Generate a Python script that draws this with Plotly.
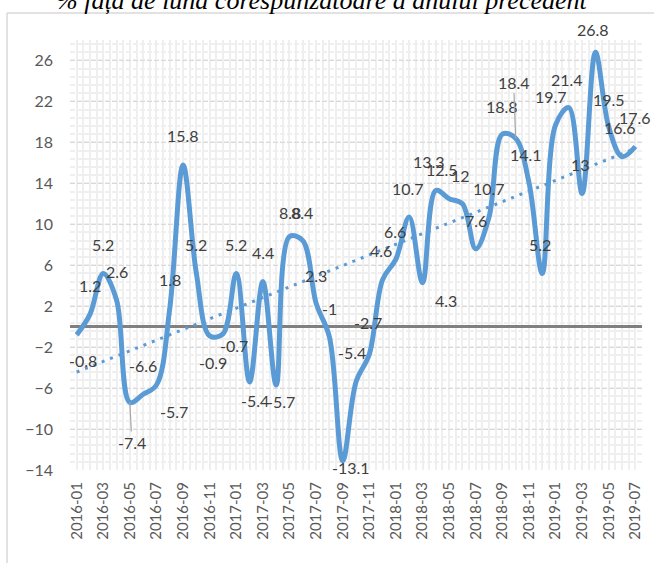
import numpy as np
import plotly.graph_objects as go

# ---- data ----
months = ["2016-01","2016-02","2016-03","2016-04","2016-05","2016-06","2016-07","2016-08","2016-09","2016-10","2016-11","2016-12",
          "2017-01","2017-02","2017-03","2017-04","2017-05","2017-06","2017-07","2017-08","2017-09","2017-10","2017-11","2017-12",
          "2018-01","2018-02","2018-03","2018-04","2018-05","2018-06","2018-07","2018-08","2018-09","2018-10","2018-11","2018-12",
          "2019-01","2019-02","2019-03","2019-04","2019-05","2019-06","2019-07"]
values = [-0.8, 1.2, 5.2, 2.6, -7.4, -6.6, -5.7, 1.8, 15.8, 5.2, -0.9, -0.7,
          5.2, -5.4, 4.4, -5.7, 8.8, 8.4, 2.3, -1, -13.1, -5.4, -2.7, 4.6,
          6.6, 10.7, 4.3, 13.3, 12.5, 12, 7.6, 10.7, 18.8, 18.4, 14.1, 5.2,
          19.7, 21.4, 13, 26.8, 19.5, 16.6, 17.6]
y_ticks = [-14, -10, -6, -2, 2, 6, 10, 14, 18, 22, 26]
title_text = "% față de luna corespunzătoare a anului precedent"

# ---- label offsets (pixels; dy positive = up) ----
label_dx = [6, 0, 0, 0, 2, 0, 18, 0, 0, 0, 3, 11,
            0, 5, 0, 5, 1, -1, 0, 0, 8, -4, -1, -2,
            -1, -1, 23, -7, -7, -2, 0, 0, 0, -2, -3, -2,
            -5, -2, -2, -2, 0, -2, 0]
label_dy = [-26, 29, 29, 29, -40, 29, -26, 29, 29, 29, -27, -12,
            29, -19, 29, -16, 24, 28, 28, 28, -7, 29, 32, 29,
            28, 29, -18, 29, 29, 28, 28, 29, 28, 56, 28, 29,
            28, 28, 29, 23, 28, 29, 29]
leader = [4, 33]

BLUE = "#5B9BD5"
x_idx = list(range(len(values)))

slope, intercept = np.polyfit(x_idx, values, 1)
trend = [slope * i + intercept for i in x_idx]

fig = go.Figure()
fig.add_trace(go.Scatter(x=x_idx, y=trend, mode="lines",
                         line=dict(color=BLUE, width=3, dash="3px,6px"),
                         hoverinfo="skip", showlegend=False))
fig.add_trace(go.Scatter(x=x_idx, y=values, mode="lines",
                         line=dict(color=BLUE, width=5, shape="spline", smoothing=1),
                         showlegend=False))

ann = []
for i, v in enumerate(values):
    txt = f"{v:g}"
    if i in leader:
        ann.append(dict(x=i, y=v, xref="x", yref="y", text=txt, showarrow=True,
                        arrowhead=0, arrowwidth=1.2, arrowcolor="#A6A6A6",
                        ax=label_dx[i], ay=-label_dy[i], standoff=0,
                        font=dict(family="Lato", size=16, color="#404040")))
    else:
        ann.append(dict(x=i, y=v, xref="x", yref="y", text=txt, showarrow=False,
                        xshift=label_dx[i], yshift=label_dy[i],
                        xanchor="center", yanchor="middle",
                        font=dict(family="Lato", size=16, color="#404040")))

W, H = 654, 563
L, R, T, B = 70, 12, 40, 93
pw, ph = W - L - R, H - T - B

def px_x(p):
    return (p - L) / pw

def px_y(p):
    return (H - B - p) / ph

ann.append(dict(x=px_x(322), y=px_y(0), xref="paper", yref="paper",
                text="<i>" + title_text + "</i>", showarrow=False,
                xanchor="center", yanchor="middle",
                font=dict(family="Liberation Serif", size=26, color="#000000")))

shapes = [
    dict(type="line", xref="paper", yref="paper", x0=px_x(7), x1=px_x(660),
         y0=px_y(13), y1=px_y(13), line=dict(color="#D9D9D9", width=1.5)),
    dict(type="line", xref="paper", yref="paper", x0=px_x(7), x1=px_x(7),
         y0=px_y(13), y1=px_y(570), line=dict(color="#D9D9D9", width=1.5)),
]

fig.update_layout(
    width=W, height=H,
    margin=dict(l=L, r=R, t=T, b=B, autoexpand=False),
    paper_bgcolor="white", plot_bgcolor="white",
    annotations=ann, shapes=shapes,
    font=dict(family="Lato", color="#595959"),
)
fig.update_xaxes(
    range=[-0.5, len(values) - 0.5], automargin=False,
    tickmode="array", tickvals=x_idx[::2], ticktext=months[::2],
    tickangle=-90, tickfont=dict(size=15, color="#595959"),
    showgrid=True, gridcolor="#EFEFEF", gridwidth=2,
    minor=dict(tickmode="linear", tick0=-0.5, dtick=0.5, showgrid=True,
               gridcolor="#EFEFEF", gridwidth=2),
    zeroline=False, showline=False, ticks="", ticklabelstandoff=8,
)
fig.update_yaxes(
    range=[-14, 28], automargin=False,
    tickmode="array", tickvals=y_ticks,
    tickfont=dict(size=16, color="#595959"),
    showgrid=True, gridcolor="#D9D9D9", gridwidth=1, griddash="5px,2px",
    minor=dict(tickmode="linear", tick0=-14, dtick=0.8, showgrid=True,
               gridcolor="#EFEFEF", gridwidth=2),
    zeroline=True, zerolinecolor="#808080", zerolinewidth=2.5,
    showline=False, ticks="", ticklabelstandoff=16,
)

fig.write_html("out.html", config={"displayModeBar": False},
               post_script="document.body.style.margin='0';")
